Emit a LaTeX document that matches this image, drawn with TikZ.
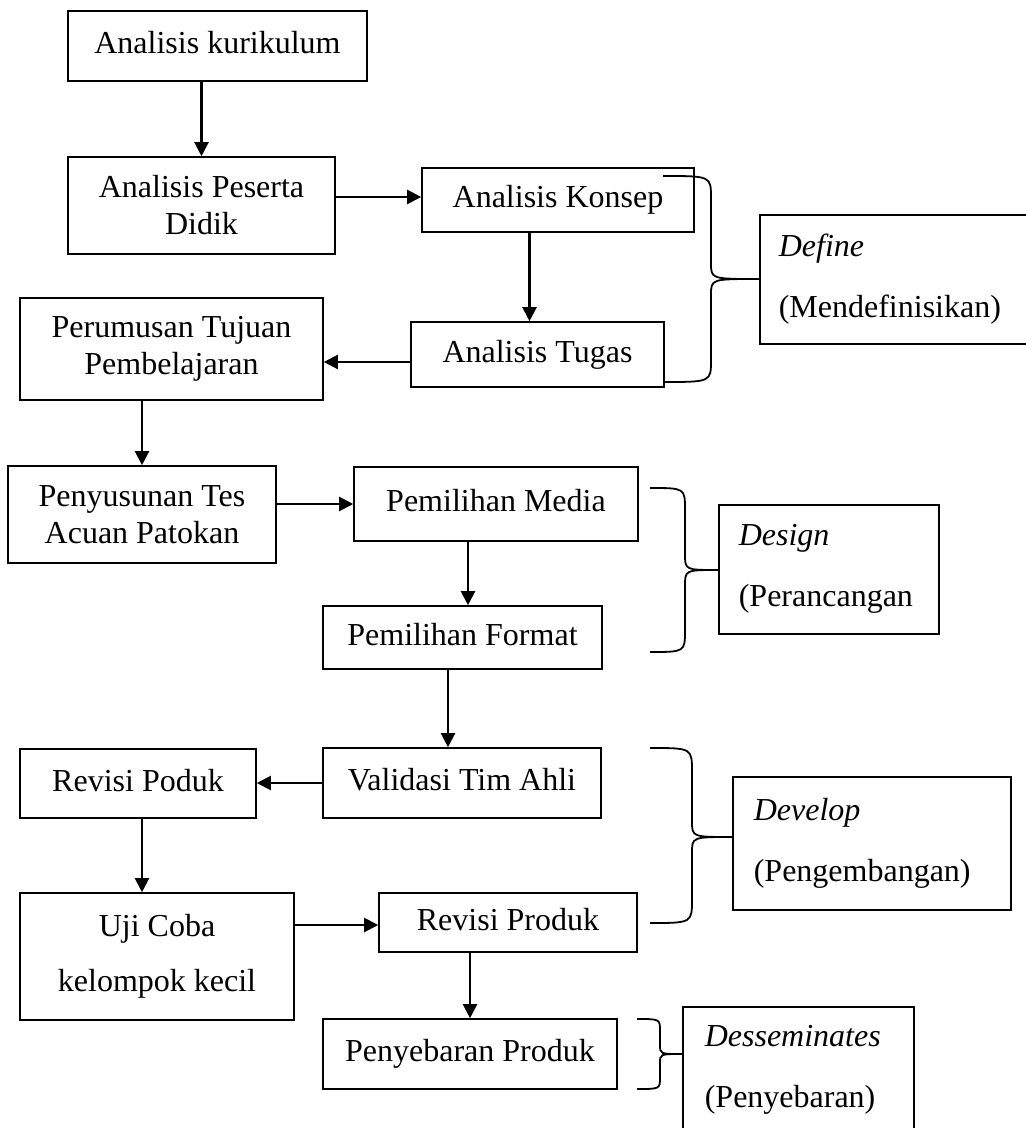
\documentclass[tikz,border=0pt]{standalone}
\usepackage{fontspec}
\setmainfont{Liberation Serif}
\usetikzlibrary{arrows.meta}

\begin{document}
\begin{tikzpicture}[x=0.5pt,y=-0.5pt,
  box/.style={draw, line width=0.8pt, inner sep=0pt, align=center, font=\fontsize{16pt}{18.5pt}\selectfont},
  single/.style={box, text height=11pt, text depth=3.5pt},
  phasebox/.style={draw, line width=0.8pt, anchor=north west, inner ysep=0pt, align=left, font=\fontsize{16pt}{30.5pt}\selectfont},
  arr/.style={-{Triangle[length=7pt,width=7pt]}, line width=1.1pt},
  brace/.style={line width=0.9pt}]

\useasboundingbox (0,0) rectangle (1025,1128);

%draw the steps
\node [single, minimum width=149.5pt, minimum height=35pt] (kur) at (217.5,46) {Analisis kurikulum};
\node [box, minimum width=133.5pt, minimum height=48.5pt] (pes) at (201.5,205.5) {Analisis Peserta\\Didik};
\node [single, minimum width=136pt, minimum height=32pt] (kon) at (558,200) {Analisis Konsep};
\node [single, minimum width=126.5pt, minimum height=32.5pt] (tug) at (537.5,354.5) {Analisis Tugas};
\node [box, minimum width=151.5pt, minimum height=51pt] (per) at (171.5,349) {Perumusan Tujuan\\Pembelajaran};
\node [box, minimum width=134pt, minimum height=48.5pt] (pen) at (142,514.5) {Penyusunan Tes\\Acuan Patokan};
\node [single, minimum width=142pt, minimum height=37pt] (med) at (496,504) {Pemilihan Media};
\node [single, minimum width=139.5pt, minimum height=31.5pt] (fmt) at (462.5,637.5) {Pemilihan Format};
\node [single, minimum width=139pt, minimum height=35pt] (val) at (462,783) {Validasi Tim Ahli};
\node [single, minimum width=118pt, minimum height=34.5pt] (rpd) at (138,783.5) {Revisi Poduk};
\node [box, minimum width=137pt, minimum height=63.5pt, font=\fontsize{16pt}{27.5pt}\selectfont] (uji) at (157,956.5) {Uji Coba\\kelompok kecil};
\node [single, minimum width=129pt, minimum height=29.5pt] (rpr) at (508,922.5) {Revisi Produk};
\node [single, minimum width=147pt, minimum height=35pt] (pny) at (470,1054) {Penyebaran Produk};

%draw the phase names
\node [phasebox, inner xsep=9.5pt, text width=116.5pt, minimum height=64.5pt] (def) at (759,214) {\textit{Define}\\(Mendefinisikan)};
\node [phasebox, inner xsep=10pt, text width=90pt, minimum height=64.5pt] (dsg) at (718,504) {\textit{Design}\\(Perancangan};
\node [phasebox, inner xsep=10.5pt, text width=118pt, minimum height=66.5pt] (dev) at (732,776) {\textit{Develop}\\(Pengembangan)};
\node [phasebox, inner xsep=11pt, text width=93.5pt, minimum height=63pt] (dis) at (682,1006) {\textit{Desseminates}\\(Penyebaran)};

%draw the arrows
\draw [arr] (pes.north |- kur.south) -- (pes.north);
\draw [arr] ([yshift=1.5pt]kon.west -| pes.east) -- ([yshift=1.5pt]kon.west);
\draw [arr] ([xshift=-4pt]tug.north |- kon.south) -- ([xshift=-4pt]tug.north);
\draw [arr] ([yshift=-3.75pt]tug.west) -- ([yshift=-3.75pt]tug.west -| per.east);
\draw [arr] (pen.north |- per.south) -- (pen.north);
\draw [arr] (med.west -| pen.east) -- (med.west);
\draw [arr] ([xshift=2.75pt]fmt.north |- med.south) -- ([xshift=2.75pt]fmt.north);
\draw [arr] ([xshift=-7pt]val.north |- fmt.south) -- ([xshift=-7pt]val.north);
\draw [arr] (val.west) -- (val.west -| rpd.east);
\draw [arr] ([xshift=2pt]rpd.south) -- ([xshift=2pt]rpd.south |- uji.north);
\draw [arr] ([yshift=-1.25pt]rpr.west -| uji.east) -- ([yshift=-1.25pt]rpr.west);
\draw [arr] (pny.north |- rpr.south) -- (pny.north);

%draw the braces
\draw [brace] (663,176) .. controls (711,176) .. (711,198) -- (711,263) .. controls (711,279) .. (759,279)
  .. controls (711,279) .. (711,295) -- (711,360) .. controls (711,382) .. (663,382);
\draw [brace] (650,488) .. controls (685,488) .. (685,510) -- (685,554) .. controls (685,570) .. (718,570)
  .. controls (685,570) .. (685,586) -- (685,630) .. controls (685,652) .. (650,652);
\draw [brace] (650,748) .. controls (692,748) .. (692,772) -- (692,821) .. controls (692,837) .. (732,837)
  .. controls (692,837) .. (692,853) -- (692,899) .. controls (692,923) .. (650,923);
\draw [brace] (637,1019) .. controls (660,1019) .. (660,1031) -- (660,1045) .. controls (660,1054) .. (682,1054)
  .. controls (660,1054) .. (660,1063) -- (660,1077) .. controls (660,1089) .. (637,1089);

\end{tikzpicture}
\end{document}
